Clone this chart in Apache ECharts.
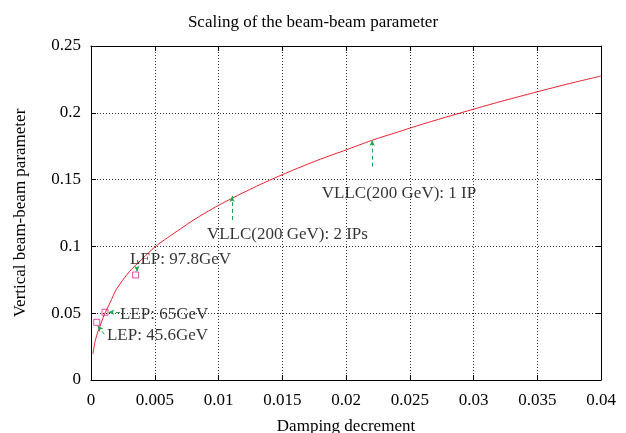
<!DOCTYPE html>
<html>
<head>
<meta charset="utf-8">
<script src="https://cdn.jsdelivr.net/npm/echarts@6/dist/echarts.min.js"></script>
<style>
  html, body { margin: 0; padding: 0; background: #fff; }
  #chart { width: 626px; height: 433px; }
</style>
</head>
<body>
<div id="chart"></div>
<script>
// Beam-beam parameter scaling curve: damping decrement vs. vertical beam-beam parameter
const curveX = [0.00015, 0.0003, 0.0005, 0.0007, 0.001, 0.0015, 0.002, 0.003, 0.004, 0.005,
                0.006, 0.007, 0.008, 0.009, 0.010, 0.011, 0.012, 0.014, 0.016, 0.018,
                0.020, 0.022, 0.024, 0.026, 0.028, 0.030, 0.032, 0.034, 0.036, 0.038, 0.040];
const curveY = [0.0195, 0.028, 0.035, 0.040, 0.048, 0.058, 0.068, 0.081, 0.0905, 0.0995,
                0.1065, 0.113, 0.1195, 0.1253, 0.1307, 0.1357, 0.1405, 0.1495, 0.1577, 0.1653,
                0.1722, 0.1793, 0.1854, 0.1915, 0.1972, 0.2027, 0.2081, 0.2132, 0.2182, 0.2230, 0.2275];

// LEP operating points
const lepX = [0.00045, 0.0011, 0.0035];
const lepY = [0.0432, 0.0507, 0.0786];

// Annotation texts and their anchor (left edge, vertical centre) in data units
const noteText = ['LEP: 97.8GeV', 'LEP: 65GeV', 'LEP: 45.6GeV', 'VLLC(200 GeV): 2 IPs', 'VLLC(200 GeV): 1 IP'];
const noteX = [0.00306, 0.00227, 0.00125, 0.00909, 0.0181];
const noteY = [0.0909, 0.0501, 0.0344, 0.1093, 0.1403];

// Arrows: start -> end, in data units
const arrowFromX = [0.0036, 0.00227, 0.00104, 0.01107, 0.02205];
const arrowFromY = [0.0898, 0.0507, 0.0342, 0.1198, 0.1597];
const arrowToX   = [0.0036, 0.00136, 0.00052, 0.01107, 0.02205];
const arrowToY   = [0.0810, 0.0507, 0.0406, 0.1377, 0.1796];

const xTicks = ['0', '0.005', '0.01', '0.015', '0.02', '0.025', '0.03', '0.035', '0.04'];
const yTicks = ['0', '0.05', '0.1', '0.15', '0.2', '0.25'];

const FONT = 'Liberation Serif';
const FS = 17;
const chart = echarts.init(document.getElementById('chart'), null, { renderer: 'canvas' });

const tickIndexX = v => Math.round(v / 0.005);
const tickIndexY = v => Math.round(v / 0.05);

const baseX = {
  type: 'value', min: 0, max: 0.04, interval: 0.005,
  axisLine: { show: true, onZero: false, lineStyle: { color: '#000', width: 1 } },
  axisTick: { show: true, inside: true, length: 5, lineStyle: { color: '#000' } },
  splitLine: { show: false }
};
const baseY = {
  type: 'value', min: 0, max: 0.25, interval: 0.05,
  axisLine: { show: true, onZero: false, lineStyle: { color: '#000', width: 1 } },
  axisTick: { show: true, inside: true, length: 5, lineStyle: { color: '#000' } },
  splitLine: { show: false }
};

chart.setOption({
  animation: false,
  backgroundColor: '#fff',
  title: {
    text: 'Scaling of the beam-beam parameter',
    left: 'center', top: 9,
    textStyle: { fontFamily: FONT, fontSize: FS, fontWeight: 'normal', color: '#000' }
  },
  grid: { left: 91, right: 25, top: 46, bottom: 53, containLabel: false, outerBoundsMode: 'none' },
  xAxis: [
    Object.assign({}, baseX, {
      position: 'bottom',
      name: 'Damping decrement', nameLocation: 'middle', nameGap: 38,
      nameTextStyle: { fontFamily: FONT, fontSize: FS, color: '#000' },
      axisLabel: { margin: 12, fontFamily: FONT, fontSize: FS, color: '#000',
                   formatter: v => xTicks[tickIndexX(v)] },
      splitLine: { show: true, lineStyle: { color: '#333', type: [1, 2], width: 1 } }
    }),
    Object.assign({}, baseX, { position: 'top', axisLabel: { show: false } })
  ],
  yAxis: [
    Object.assign({}, baseY, {
      position: 'left',
      name: 'Vertical beam-beam parameter', nameLocation: 'middle', nameGap: 62,
      nameTextStyle: { fontFamily: FONT, fontSize: FS, color: '#000' },
      axisLabel: { margin: 10, fontFamily: FONT, fontSize: FS, color: '#000',
                   formatter: v => yTicks[tickIndexY(v)] },
      splitLine: { show: true, lineStyle: { color: '#333', type: [1, 2], width: 1 } }
    }),
    Object.assign({}, baseY, { position: 'right', axisLabel: { show: false } })
  ],
  series: [
    {
      type: 'line',
      data: curveX.map((x, i) => [x, curveY[i]]),
      smooth: 0.25,
      showSymbol: false,
      lineStyle: { color: '#e8202a', width: 1 },
      z: 3
    },
    {
      type: 'scatter',
      data: lepX.map((x, i) => [x, lepY[i]]),
      symbol: 'rect', symbolSize: 6,
      itemStyle: { color: 'transparent', borderColor: '#e0209a', borderWidth: 1 },
      z: 4
    },
    {
      type: 'scatter',
      data: noteX.map((x, i) => ({ value: [x, noteY[i]], name: noteText[i] })),
      symbolSize: 0,
      label: {
        show: true, position: 'right', distance: 0, offset: [0, 1],
        formatter: p => p.name,
        fontFamily: FONT, fontSize: FS, color: '#000'
      },
      silent: true,
      z: 5
    },
    {
      type: 'line',
      data: [],
      markLine: {
        silent: true,
        symbol: ['none', 'arrow'],
        symbolSize: [4, 6],
        label: { show: false },
        lineStyle: { color: '#1aa84a', type: [4, 3], width: 1 },
        data: arrowFromX.map((x, i) => [
          { coord: [x, arrowFromY[i]] },
          { coord: [arrowToX[i], arrowToY[i]] }
        ])
      },
      z: 4
    }
  ]
});
</script>
</body>
</html>
